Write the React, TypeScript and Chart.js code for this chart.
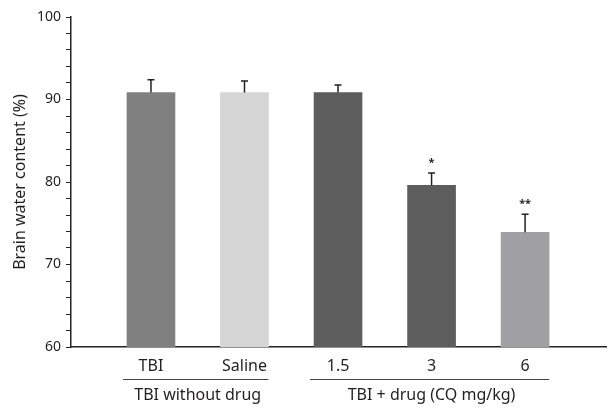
import React, { useEffect, useRef } from "react";
import { Chart, registerables } from "chart.js";

Chart.register(...registerables);

const categories = ["TBI", "Saline", "1.5", "3", "6"];
const values = [90.85, 90.85, 90.85, 79.6, 73.9];
const errors = [1.55, 1.4, 0.9, 1.5, 2.2];
const significance = ["", "", "", "*", "**"];
const barColors = ["#808080", "#d5d5d5", "#5d5d5d", "#5d5d5d", "#a09fa4"];
const groups = [
  { label: "TBI without drug", from: 0, to: 1 },
  { label: "TBI + drug (CQ mg/kg)", from: 2, to: 4 },
];
const yTitle = "Brain water content (%)";

const FONT = "'Noto Sans', sans-serif";
const TEXT = "#231f20";

const overlay = {
  id: "overlay",
  afterDatasetsDraw(chart: any) {
    const { ctx, scales } = chart;
    const x = scales.x;
    const y = scales.y;
    ctx.save();
    values.forEach((v, i) => {
      const px = x.getPixelForValue(i);
      const top = y.getPixelForValue(v);
      const cap = y.getPixelForValue(v + errors[i]);
      ctx.strokeStyle = "#222";
      ctx.lineWidth = 1.5;
      ctx.beginPath();
      ctx.moveTo(px, top);
      ctx.lineTo(px, cap);
      ctx.moveTo(px - 3.5, cap);
      ctx.lineTo(px + 3.5, cap);
      ctx.stroke();
      if (significance[i]) {
        ctx.fillStyle = TEXT;
        ctx.font = `bold 11px ${FONT}`;
        ctx.textAlign = "center";
        ctx.textBaseline = "middle";
        ctx.fillText(significance[i], px, cap - 10);
      }
    });
    const lineY = y.bottom + 32;
    groups.forEach((g) => {
      const x0 = x.getPixelForValue(g.from) - 28;
      const x1 = x.getPixelForValue(g.to) + 24;
      ctx.strokeStyle = "#444";
      ctx.lineWidth = 1;
      ctx.beginPath();
      ctx.moveTo(x0, lineY + 0.5);
      ctx.lineTo(x1, lineY + 0.5);
      ctx.stroke();
      ctx.fillStyle = TEXT;
      ctx.font = `16px ${FONT}`;
      ctx.textAlign = "center";
      ctx.textBaseline = "middle";
      const cx = (x.getPixelForValue(g.from) + x.getPixelForValue(g.to)) / 2;
      ctx.fillText(g.label, cx, lineY + 16);
    });
    ctx.restore();
  },
};

export default function App() {
  const ref = useRef<HTMLCanvasElement>(null);
  useEffect(() => {
    document.body.style.margin = "0";
    const chart = new Chart(ref.current!, {
      type: "bar",
      data: {
        datasets: [
          {
            data: values.map((v, i) => ({ x: i, y: v })),
            backgroundColor: barColors,
            barThickness: 48,
            borderWidth: 0,
          },
        ],
      },
      options: {
        animation: false,
        responsive: false,
        maintainAspectRatio: false,
        layout: { padding: { left: 0, top: 17, right: 6, bottom: 0 } },
        plugins: { legend: { display: false }, tooltip: { enabled: false } },
        scales: {
          x: {
            type: "linear",
            offset: false,
            min: -0.855,
            max: 4.865,
            grid: { display: false, drawTicks: false, offset: false },
            border: { color: "#222", width: 1.5 },
            afterBuildTicks: (scale: any) => {
              scale.ticks = categories.map((_, i) => ({ value: i }));
            },
            ticks: {
              autoSkip: false,
              maxRotation: 0,
              color: TEXT,
              font: { family: FONT, size: 16 },
              padding: 10,
              callback: (v: any) => categories[v] ?? "",
            },
            afterFit: (scale: any) => {
              scale.height = 68;
            },
          },
          y: {
            min: 60,
            max: 100,
            grid: {
              drawOnChartArea: false,
              drawTicks: true,
              tickLength: 5,
              color: "#222",
              lineWidth: 1,
            },
            border: { color: "#222", width: 1.5 },
            ticks: {
              stepSize: 2,
              autoSkip: false,
              color: TEXT,
              font: { family: FONT, size: 14 },
              padding: 5,
              callback: (v: any) => (v % 10 === 0 ? String(v) : ""),
            },
            title: {
              display: true,
              text: yTitle,
              color: TEXT,
              font: { family: FONT, size: 16 },
              padding: { top: 11, bottom: 2 },
            },
            afterFit: (scale: any) => {
              scale.width = 71;
            },
          },
        },
      },
      plugins: [overlay],
    });
    return () => chart.destroy();
  }, []);
  return (
    <div style={{ position: "absolute", left: 0, top: 0, width: 612, height: 415 }}>
      <canvas ref={ref} width={612} height={415} style={{ width: 612, height: 415 }} />
    </div>
  );
}
